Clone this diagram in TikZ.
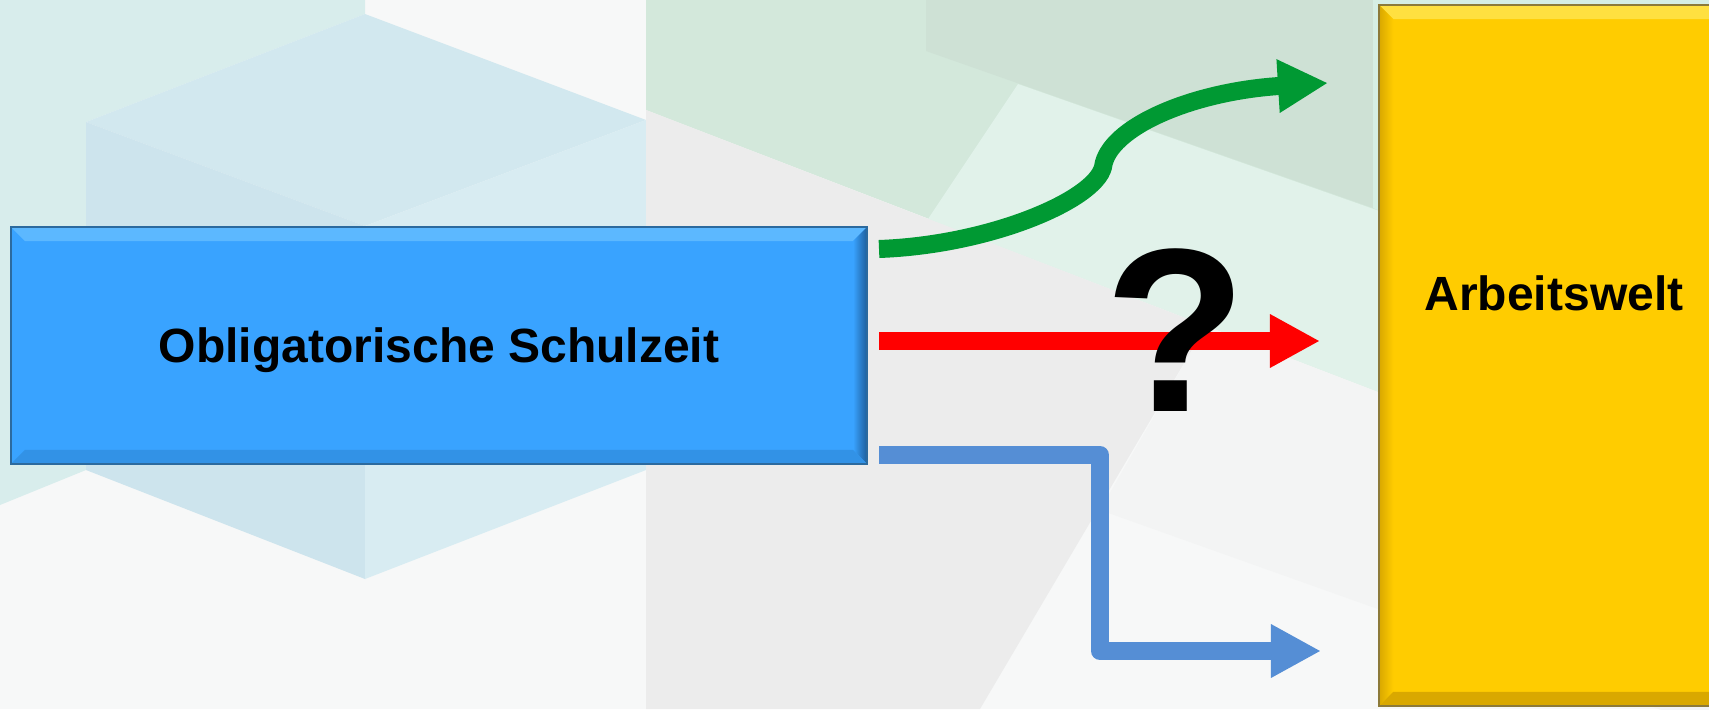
\documentclass[tikz,border=0pt]{standalone}
\usepackage{fontspec}
\setmainfont{Liberation Sans}
\usetikzlibrary{arrows.meta,calc}
\definecolor{bgwhite}{HTML}{F7F8F8}
\definecolor{tealA}{HTML}{D8EDEC}
\definecolor{cubeTop}{HTML}{D2E8EF}
\definecolor{cubeLeft}{HTML}{CDE4ED}
\definecolor{cubeRight}{HTML}{D8ECF2}
\definecolor{greenA}{HTML}{D3E8DB}
\definecolor{greenDark}{HTML}{CEE1D5}
\definecolor{mintA}{HTML}{D6EEE4}
\definecolor{mintBand}{HTML}{E1F2EA}
\definecolor{greyA}{HTML}{ECECEC}
\definecolor{greyB}{HTML}{F3F4F4}
\definecolor{boxblue}{HTML}{39A3FF}
\definecolor{boxblueLight}{HTML}{5CB8FF}
\definecolor{boxblueDark}{HTML}{1E5E9C}
\definecolor{boxblueEdge}{HTML}{2C6A9E}
\definecolor{boxyellow}{HTML}{FFCC00}
\definecolor{yellowLight}{HTML}{FFE040}
\definecolor{yellowDark}{HTML}{D9A800}
\definecolor{yellowEdge}{HTML}{8C7A3A}
\definecolor{arrowgreen}{HTML}{009933}
\definecolor{arrowred}{HTML}{FF0000}
\definecolor{arrowblue}{HTML}{558ED5}
\tikzset{
  boxfont/.style={font=\bfseries\fontsize{13.66}{16}\selectfont},
  schoolbox/.style={fill=boxblue, minimum width=8.54cm, minimum height=2.35cm,
    inner sep=0pt, boxfont, text height=9.78pt, text depth=0pt},
  workbox/.style={fill=boxyellow, minimum width=3.48cm, minimum height=6.99cm, inner sep=0pt},
  flow/.style={line width=0.18cm, -{Triangle[length=0.5cm,width=0.5cm]}},
  qmark/.style={font=\bfseries\fontsize{66.3}{70}\selectfont, inner sep=0pt, anchor=base}
}
\begin{document}
\begin{tikzpicture}[x=0.01cm,y=-0.01cm]
\useasboundingbox (0,0) rectangle (1709,709);
\begin{scope}
\clip (0,0) rectangle (1709,709);
% background
\fill[bgwhite] (0,0) rectangle (1709,709);
\fill[tealA] (0,0) -- (365,0) -- (365,14) -- (86,122) -- (86,470) -- (0,505) -- cycle;
\fill[cubeTop] (86,122) -- (365,14) -- (646,120) -- (365,226) -- cycle;
\fill[cubeLeft] (86,122) -- (365,226) -- (365,579) -- (86,470) -- cycle;
\fill[cubeRight] (365,226) -- (646,120) -- (646,470) -- (365,579) -- cycle;
\fill[greenA] (646,0) -- (1709,0) -- (1709,519) -- (646,110) -- cycle;
\fill[greenDark] (926,0) -- (1373,0) -- (1373,208) -- (926,51) -- cycle;
\fill[mintA] (1373,0) -- (1709,0) -- (1709,327) -- (1373,208) -- cycle;
\fill[mintBand] (1018,84) -- (1709,327) -- (1709,519) -- (928,219) -- cycle;
\fill[greyA] (646,110) -- (1206,326) -- (980,709) -- (646,709) -- cycle;
\fill[greyB] (1206,326) -- (1709,519) -- (1709,727) -- (1100,510) -- cycle;

% boxes
\node[schoolbox] (school) at (439,345.5) {Obligatorische Schulzeit};
\fill[boxblueLight] (school.north west) -- (school.north east) -- ($(school.north east)+(-14,14)$) -- ($(school.north west)+(14,14)$) -- cycle;
\shade[left color=boxblue, right color=boxblueDark] (school.north east) -- (school.south east) -- ($(school.south east)+(-14,-14)$) -- ($(school.north east)+(-14,14)$) -- cycle;
\fill[boxblue!75!boxblueDark] (school.south west) -- (school.south east) -- ($(school.south east)+(-14,-14)$) -- ($(school.south west)+(14,-14)$) -- cycle;
\draw[boxblueEdge, line width=0.015cm] (school.north west) rectangle (school.south east);

\node[workbox] (work) at (1554,355.5) {};
\fill[yellowLight] (work.north west) -- (work.north east) -- ($(work.north east)+(-14,14)$) -- ($(work.north west)+(14,14)$) -- cycle;
\shade[left color=yellowDark, right color=boxyellow] (work.north west) -- (work.south west) -- ($(work.south west)+(14,-14)$) -- ($(work.north west)+(14,14)$) -- cycle;
\fill[yellowDark] (work.south west) -- (work.south east) -- ($(work.south east)+(-14,-14)$) -- ($(work.south west)+(14,-14)$) -- cycle;
\draw[yellowEdge, line width=0.015cm] (work.north west) rectangle (work.south east);
\node[boxfont, inner sep=0pt, anchor=base] (worklabel) at (1554,310) {Arbeitswelt};

% arrows
\coordinate (gS) at (879,249);
\coordinate (gE) at (1328,83);
\coordinate (rS) at (879,341);
\coordinate (rE) at (1320,341);
\coordinate (bS) at (879,455);
\coordinate (bM) at (1100,553);
\coordinate (bE) at (1321,651);
\draw[flow, arrowgreen] (gS) .. controls (990,245) and (1095,200) .. (1103,167)
   .. controls (1108,128) and (1190,92) .. (1279,86) -- (gE);
\draw[flow, arrowred] (rS) -- (rE);
\draw[flow, arrowblue, line join=round] (bS) -| (bM) |- (bE);

\node[qmark] (q) at (1176,411) {?};
\end{scope}
\end{tikzpicture}
\end{document}
